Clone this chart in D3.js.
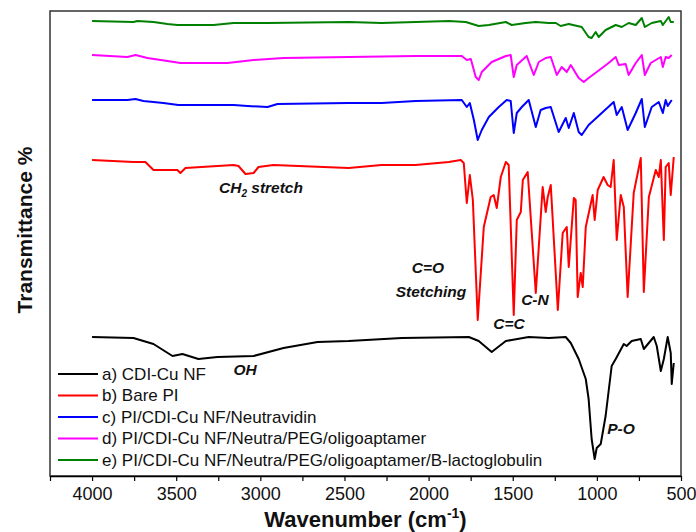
<!DOCTYPE html>
<html><head><meta charset="utf-8">
<script src="https://cdn.jsdelivr.net/npm/d3@7/dist/d3.min.js"></script>
<style>body{margin:0;background:#fff}svg{display:block}text{font-family:"Liberation Sans",Arial,sans-serif}</style>
</head><body><svg id="c" width="696" height="532"></svg>
<script>
// wavenumber (cm-1), stacked transmittance (arbitrary offset units)
const seriesNames = ["a) CDI-Cu NF","b) Bare PI","c) PI/CDI-Cu NF/Neutravidin","d) PI/CDI-Cu NF/Neutra/PEG/oligoaptamer","e) PI/CDI-Cu NF/Neutra/PEG/oligoaptamer/B-lactoglobulin"];
const seriesColors = ["#000000","#ff0000","#0000ff","#ff00ff","#008000"];
const tickLabels = [4000,3500,3000,2500,2000,1500,1000,500];
const minorTicks = [4250,3750,3250,2750,2250,1750,1250,750];

const spectrumA = [[4000,139],[3754,138],[3635,132],[3522,120],[3463,122],[3368,117],[3255,119],[3040,120],[2862,128],[2660,134],[2475,135],[2160,138],[1761,139],[1702,135],[1625,124],[1541,135],[1506,136],[1405,139],[1286,138],[1185,139],[1155,133],[1108,117],[1066,97],[1049,77],[1031,37],[1013,17],[1001,28],[977,32],[948,60],[912,110],[888,117],[840,132],[823,130],[793,135],[739,137],[721,127],[662,139],[644,130],[620,105],[602,117],[579,139],[561,123],[555,92],[543,113]];
const spectrumB = [[4000,316],[3754,314],[3683,314],[3635,306],[3612,306],[3493,306],[3475,303],[3445,308],[3159,311],[3130,310],[3088,302],[3040,303],[3011,309],[2922,311],[2475,308],[2279,311],[2077,311],[1880,314],[1809,316],[1791,313],[1773,273],[1755,301],[1737,276],[1708,156],[1672,249],[1631,279],[1613,281],[1595,268],[1571,299],[1541,314],[1524,311],[1494,161],[1476,256],[1452,264],[1440,296],[1411,304],[1363,183],[1322,289],[1304,264],[1292,279],[1274,291],[1232,166],[1203,243],[1179,249],[1167,209],[1137,278],[1126,276],[1114,179],[1096,203],[1084,189],[1066,249],[1025,281],[1013,256],[995,286],[960,299],[936,291],[918,289],[900,316],[882,236],[858,281],[840,269],[817,179],[781,283],[739,318],[721,184],[691,279],[650,306],[632,299],[620,316],[602,236],[591,309],[573,313],[561,281],[543,319]];
const spectrumC = [[4000,376],[3790,376],[3742,377],[3695,375],[3576,373],[3487,371],[3159,371],[3076,370],[2957,369],[2898,372],[2475,373],[2279,373],[2077,375],[1803,376],[1773,369],[1755,373],[1731,356],[1708,336],[1684,346],[1642,359],[1583,369],[1536,376],[1512,375],[1494,343],[1476,363],[1446,369],[1405,376],[1363,349],[1334,366],[1304,368],[1274,369],[1227,344],[1185,358],[1167,348],[1137,363],[1108,344],[1090,341],[1049,351],[971,363],[900,374],[882,361],[852,369],[817,346],[769,363],[733,377],[715,349],[674,369],[632,374],[608,363],[591,376],[579,370],[555,376]];
const spectrumD = [[4000,421],[3790,419],[3742,421],[3671,418],[3552,415],[3475,413],[3195,413],[3040,416],[2862,418],[2475,419],[2077,420],[1803,420],[1773,416],[1749,417],[1720,399],[1702,396],[1684,404],[1625,414],[1541,420],[1512,421],[1494,399],[1476,411],[1417,420],[1375,401],[1345,414],[1304,418],[1274,419],[1238,401],[1209,409],[1179,404],[1155,411],[1108,398],[1078,394],[1049,398],[1001,404],[930,413],[888,419],[870,411],[829,412],[811,401],[769,413],[733,421],[715,401],[680,413],[620,419],[608,409],[591,419],[573,418],[555,421]];
const spectrumE = [[4000,455],[3754,454],[3731,455],[3635,454],[3552,452],[3493,451],[3278,451],[3159,453],[2957,453],[2475,454],[2279,453],[2077,454],[1880,455],[1779,454],[1702,450],[1642,451],[1541,454],[1506,451],[1423,453],[1363,454],[1286,453],[1244,453],[1215,450],[1167,452],[1090,449],[1049,439],[1031,438],[1007,444],[989,439],[948,446],[888,451],[852,449],[811,453],[769,451],[733,458],[715,449],[674,453],[620,455],[608,451],[573,459],[561,454],[543,454]];
const spectra = [spectrumA, spectrumB, spectrumC, spectrumD, spectrumE];

const annotations = [
  {t:"C=O", wn:2004, v:203},
  {t:"Stetching", wn:1986, v:179},
  {t:"C-N", wn:1368, v:171},
  {t:"C=C", wn:1522, v:147},
  {t:"OH", wn:3091, v:101},
  {t:"P-O", wn:857, v:42}
];

const svg = d3.select("#c");
const L=50, R=681, T=11, B=476;
const x = d3.scaleLinear().domain([4250,500]).range([L,R]);
const y = d3.scaleLinear().domain([0,465]).range([B,T]);

// frame
svg.append("rect").attr("x",L).attr("y",T).attr("width",R-L).attr("height",B-T)
  .attr("fill","none").attr("stroke","#333").attr("stroke-width",1.5);

// bottom axis
const ax = svg.append("g").attr("transform",`translate(0,${B})`)
  .call(d3.axisBottom(x).tickValues(minorTicks.concat(tickLabels)).tickSize(5).tickSizeOuter(0)
    .tickFormat(d => tickLabels.includes(d) ? d : ""));
ax.select(".domain").attr("stroke","#000").attr("stroke-width",1.5);
ax.selectAll(".tick line").attr("stroke","#000").attr("stroke-width",1.2);
ax.selectAll(".tick text").attr("font-size",18).attr("fill","#111").attr("y",11).attr("font-family","Liberation Sans, Arial, sans-serif");

// lines
const line = d3.line().x(d=>x(d[0])).y(d=>y(d[1]));
spectra.forEach((s,i)=>{
  svg.append("path").datum(s).attr("d",line).attr("fill","none")
    .attr("stroke",seriesColors[i]).attr("stroke-width",2).attr("stroke-linejoin","round");
});

// annotations
const ann = svg.append("g").attr("font-size",15.5).attr("font-weight","bold").attr("font-style","italic").attr("fill","#111");
annotations.forEach(a=>{
  ann.append("text").attr("x",x(a.wn)).attr("y",y(a.v)).attr("text-anchor","middle").text(a.t);
});
const ch = ann.append("text").attr("x",x(2996)).attr("y",y(283)).attr("text-anchor","middle");
ch.append("tspan").text("CH");
ch.append("tspan").attr("font-size",10).attr("dy",4).text("2");
ch.append("tspan").attr("dy",-4).text(" stretch");

// legend
const lg = svg.append("g");
seriesNames.forEach((n,i)=>{
  const yy = 374 + i*21.5;
  lg.append("line").attr("x1",58).attr("x2",98).attr("y1",yy).attr("y2",yy)
    .attr("stroke",seriesColors[i]).attr("stroke-width",2);
  lg.append("text").attr("x",102).attr("y",yy).attr("dy","0.35em").attr("font-size",17).attr("fill","#111").text(n);
});

// axis titles
const xt = svg.append("text").attr("x",(L+R)/2).attr("y",527).attr("text-anchor","middle")
  .attr("font-size",22).attr("font-weight","bold").attr("fill","#111");
xt.append("tspan").text("Wavenumber (cm");
xt.append("tspan").attr("font-size",14).attr("dy",-9).text("-1");
xt.append("tspan").attr("dy",9).text(")");
svg.append("text").attr("transform","translate(32,230) rotate(-90)").attr("text-anchor","middle")
  .attr("font-size",21).attr("font-weight","bold").attr("fill","#111").text("Transmittance %");
</script></body></html>
